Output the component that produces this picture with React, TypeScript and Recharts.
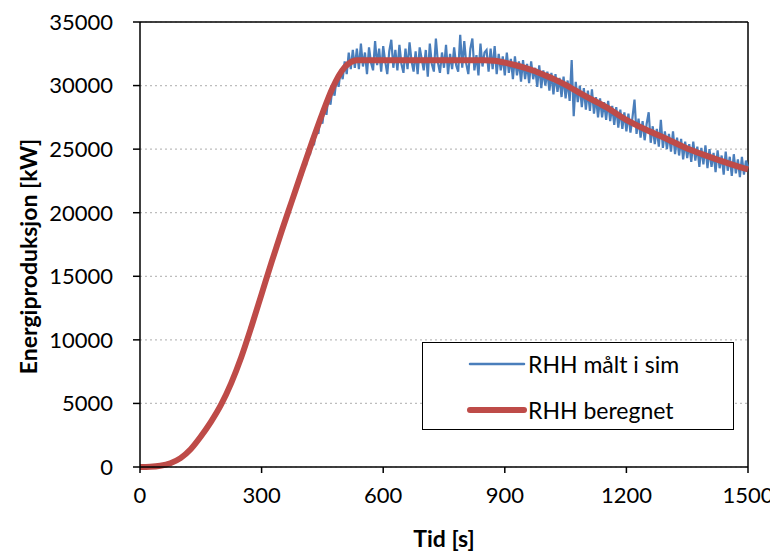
import React from "react";

// Library
import {
  LineChart,
  Line,
  XAxis,
  YAxis,
  CartesianGrid,
  ReferenceLine,
  Legend,
} from "recharts";

const xTicks = [0, 300, 600, 900, 1200, 1500];
const yTicks = [0, 5000, 10000, 15000, 20000, 25000, 30000, 35000];

// RHH beregnet
const beregnetTid = [
  0, 25, 50, 75, 100, 125, 150, 175, 200, 225, 250, 275, 300, 325, 350, 375,
  400, 425, 450, 475, 490, 505, 520, 535, 600, 700, 800, 850, 875, 900, 925,
  950, 975, 1000, 1025, 1050, 1075, 1100, 1150, 1200, 1250, 1300, 1350, 1400,
  1450, 1500,
];
const beregnetEffekt = [
  0, 20, 100, 300, 700, 1400, 2400, 3550, 4900, 6600, 8650, 11050, 13600,
  16150, 18600, 20950, 23300, 25600, 27800, 29800, 30750, 31450, 31850, 32000,
  32000, 32000, 32000, 32000, 31950, 31800, 31620, 31400, 31130, 30800, 30450,
  30050, 29600, 29150, 28300, 27300, 26500, 25800, 25050, 24450, 23900, 23400,
];

// RHH målt i sim (skjult under beregnet før 330 s)
const maltTidTidlig = [0, 25, 50, 75, 100, 125, 150, 175, 200, 225, 250, 275, 300, 325];
const maltEffektTidlig = [
  0, 20, 100, 300, 700, 1400, 2400, 3550, 4900, 6600, 8650, 11050, 13600, 16150,
];
const maltStart = 330;
const maltSteg = 5;
const maltEffekt = [
  // 330 - 530
  16550, 17100, 17500, 18100, 18400, 19050, 19350, 20050, 20300, 21000,
  21150, 22000, 22050, 22900, 22950, 23900, 23800, 24900, 24700, 25800,
  25500, 26700, 26200, 27500, 27000, 28400, 27700, 29200, 28500, 29900,
  29200, 30600, 29900, 31200, 30500, 31900, 30900, 32600, 31300, 32800,
  31400,
  // 535 - 850
  32900, 31300, 33300, 31500, 32600, 30900, 33000, 31800, 31200, 33500,
  31600, 32900, 31100, 33100, 31900, 30900, 32700, 33600, 31400, 32800,
  31200, 33200, 31700, 31000, 32900, 31300, 33400, 31900, 31100, 32700,
  30900, 33000, 32100, 31200, 32800, 30700, 33300, 31700, 31100, 33700,
  31800, 31000, 32600, 31400, 33200, 30900, 32500, 31300, 33000, 31600,
  31100, 34000, 31400, 33500, 31700, 30900, 32900, 33700, 31200, 32400,
  30800, 33300, 31500, 32600,
  // 855 - 1500
  32800, 31100, 32900, 31300, 33100, 30900, 32500, 31200, 32300, 30800,
  32600, 31000, 32100, 30500, 32300, 30800, 31900, 30300, 32000, 30500,
  31700, 30200, 31900, 30500, 31400, 29900, 31600, 29800, 31200, 30000,
  31100, 29600, 31000, 29300, 30900, 29500, 30600, 29100, 30700, 29000,
  30400, 28800, 32000, 27600, 30300, 28700, 30000, 28300, 29800, 28100,
  29600, 28000, 29700, 27800, 29100, 27500, 29000, 27500, 28700, 27300,
  28800, 27200, 28400, 26900, 28300, 26700, 28100, 26600, 27900, 26400,
  27800, 26300, 27500, 28900, 26200, 27400, 25900, 27200, 25700, 27000,
  27900, 25500, 26800, 25400, 26600, 25200, 27300, 25100, 26400, 25000,
  26200, 24800, 26400, 24600, 25900, 24500, 25800, 24200, 25600, 24300,
  25400, 24000, 25600, 24100, 25200, 23600, 25100, 23800, 25300, 23500,
  25000, 23600, 24700, 23200, 24900, 23500, 24500, 23000, 24800, 23300,
  24400, 22900, 24600, 23100, 24200, 22800, 24400, 23000, 24100, 23600,
];

const beregnetData = beregnetTid.map((t, i) => ({ t, v: beregnetEffekt[i] }));
const maltData = [
  ...maltTidTidlig.map((t, i) => ({ t, v: maltEffektTidlig[i] })),
  ...maltEffekt.map((v, i) => ({ t: maltStart + i * maltSteg, v })),
];

const BLUE = "#4A7EBB";
const RED = "#BE4B48";
const FONT = "Lato, 'Open Sans', sans-serif";

const legendItems = [
  { name: "RHH målt i sim", color: BLUE, width: 2.5, top: 6 },
  { name: "RHH beregnet", color: RED, width: 6, top: 52 },
];

function renderLegend() {
  return (
    <div
      style={{
        position: "relative",
        width: 312,
        height: 88,
        boxSizing: "border-box",
        border: "1.5px solid #000",
        background: "#fff",
        fontFamily: FONT,
        fontSize: 23,
      }}
    >
      {legendItems.map((item) => (
        <div
          key={item.name}
          style={{
            position: "absolute",
            left: 44,
            top: item.top,
            height: 30,
            display: "flex",
            alignItems: "center",
          }}
        >
          <svg width={60} height={12}>
            <line
              x1={3}
              y1={6}
              x2={57}
              y2={6}
              stroke={item.color}
              strokeWidth={item.width}
              strokeLinecap="round"
            />
          </svg>
          <span style={{ marginLeft: 1, color: "#000", lineHeight: "30px" }}>
            {item.name}
          </span>
        </div>
      ))}
    </div>
  );
}

function YTitle(props: any) {
  const vb = props.viewBox || { x: 0, y: 14, width: 132, height: 445 };
  const x = vb.x + 20;
  const y = vb.y + vb.height / 2 + 12;
  return (
    <text
      x={x}
      y={y}
      transform={`rotate(-90 ${x} ${y})`}
      textAnchor="middle"
      dominantBaseline="central"
      style={{ fontFamily: FONT, fontSize: 23, fontWeight: 700, fill: "#000" }}
    >
      Energiproduksjon [kW]
    </text>
  );
}

function XTitle(props: any) {
  const vb = props.viewBox || { x: 132, y: 459, width: 608, height: 87 };
  return (
    <text
      x={vb.x + vb.width / 2}
      y={vb.y + 80}
      textAnchor="middle"
      style={{ fontFamily: FONT, fontSize: 23, fontWeight: 700, fill: "#000" }}
    >
      Tid [s]
    </text>
  );
}

function App() {
  return (
    <div style={{ width: 770, height: 546, fontFamily: FONT }}>
      <LineChart
        width={770}
        height={546}
        margin={{ top: 14, right: 30, bottom: 0, left: 0 }}
      >
        <CartesianGrid
          vertical={false}
          stroke="#BDBDBD"
          strokeDasharray="2 3"
          strokeWidth={1.2}
        />
        <XAxis
          dataKey="t"
          type="number"
          domain={[0, 1500]}
          ticks={xTicks}
          height={87}
          tickSize={6}
          tickMargin={14}
          axisLine={{ stroke: "#000", strokeWidth: 1.5 }}
          tickLine={{ stroke: "#000", strokeWidth: 1.5 }}
          tick={{ fontSize: 22, fill: "#000", fontFamily: FONT }}
          label={<XTitle />}
        />
        <YAxis
          dataKey="v"
          type="number"
          domain={[0, 35000]}
          ticks={yTicks}
          width={132}
          tickSize={7}
          tickMargin={20}
          axisLine={{ stroke: "#000", strokeWidth: 1.5 }}
          tickLine={{ stroke: "#000", strokeWidth: 1.5 }}
          tick={{ fontSize: 22, fill: "#000", fontFamily: FONT }}
          label={<YTitle />}
        />
        <ReferenceLine y={35000} stroke="#000" strokeWidth={1.5} />
        <ReferenceLine x={1500} stroke="#000" strokeWidth={1.5} />
        <Legend
          layout="horizontal"
          align="center"
          verticalAlign="middle"
          content={renderLegend}
          wrapperStyle={{ left: 414, top: 334, width: 312, height: 88 }}
        />
        <Line
          data={maltData}
          dataKey="v"
          name="RHH målt i sim"
          type="linear"
          stroke={BLUE}
          strokeWidth={2.2}
          dot={false}
          activeDot={false}
          isAnimationActive={false}
        />
        <Line
          data={beregnetData}
          dataKey="v"
          name="RHH beregnet"
          type="monotone"
          stroke={RED}
          strokeWidth={6}
          dot={false}
          activeDot={false}
          isAnimationActive={false}
        />
      </LineChart>
    </div>
  );
}

export default App;
